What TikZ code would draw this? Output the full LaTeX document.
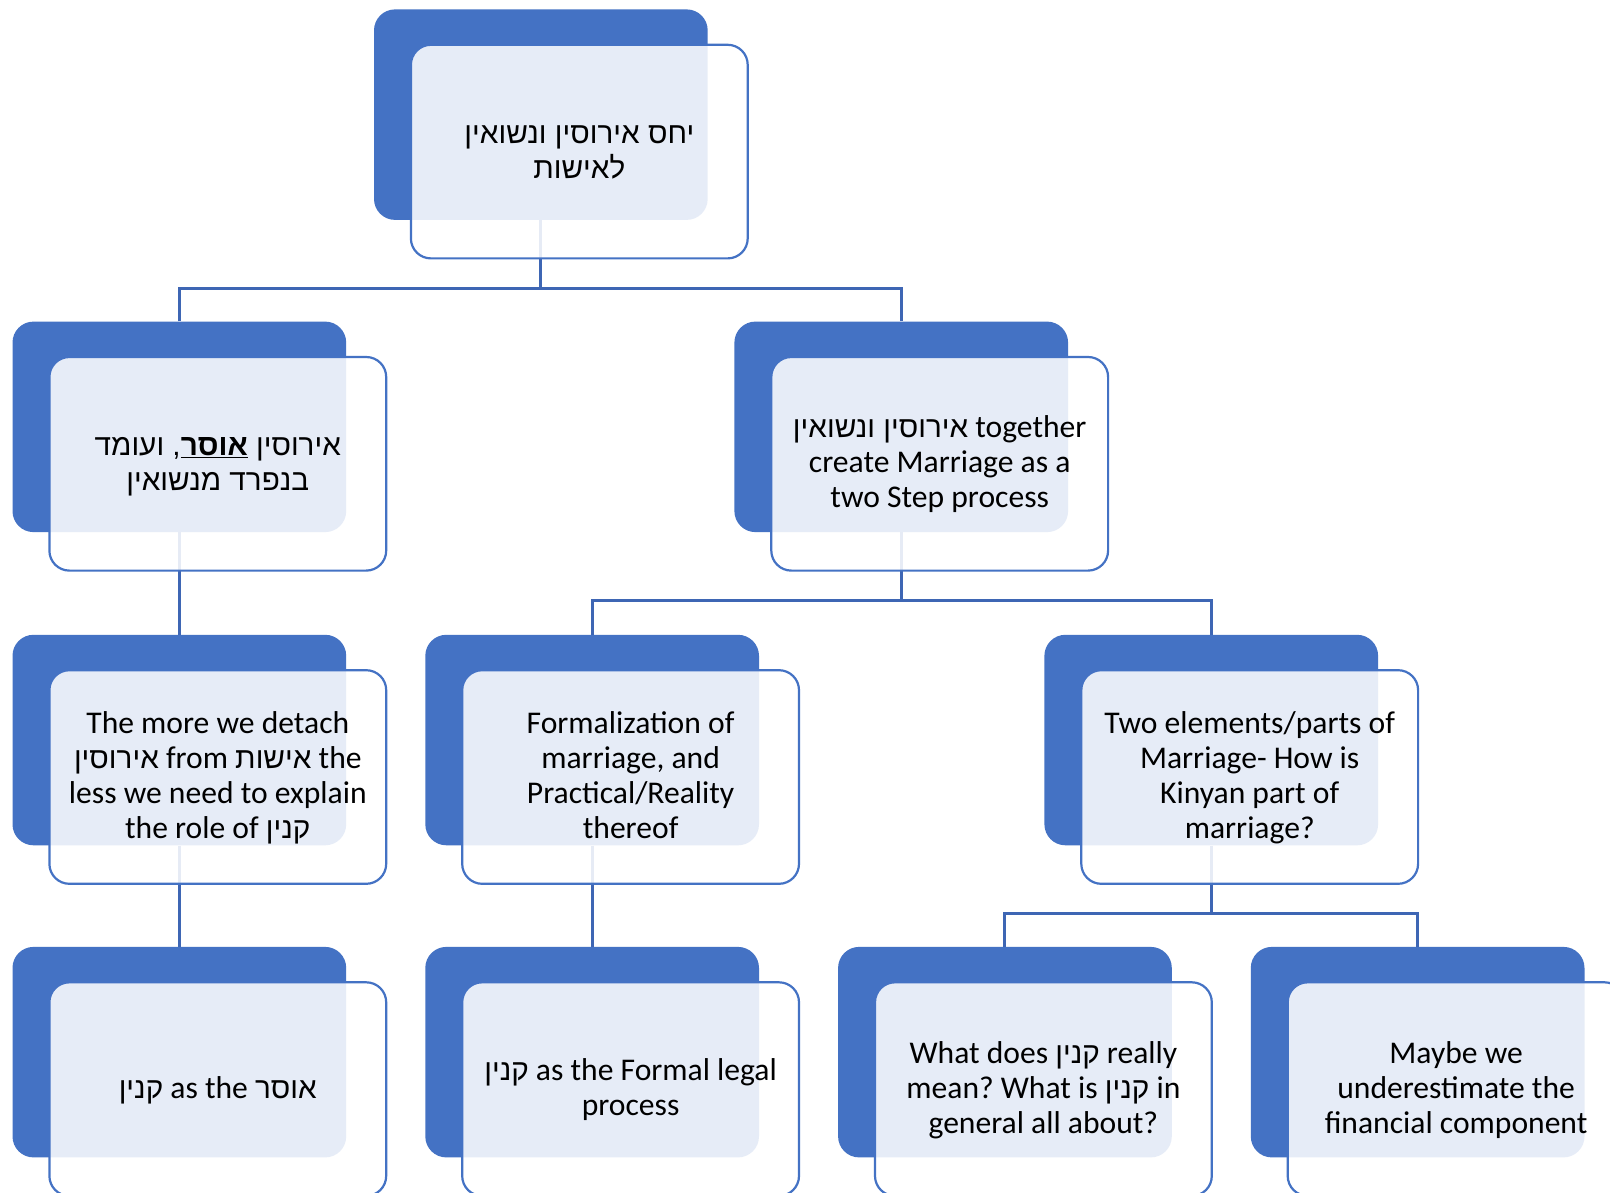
\documentclass[tikz,border=0pt]{standalone}
\usepackage{fontspec}
\setmainfont{Carlito}
\newfontfamily\hebfont[Script=Hebrew,Scale=0.94]{Liberation Sans}
\TeXXeTstate=1
\frenchspacing
\newcommand\hb[1]{{\hebfont\beginR #1\endR}}
\usetikzlibrary{calc}
\definecolor{boxblue}{RGB}{68,114,196}
\definecolor{linkblue}{RGB}{62,102,180}
\pgfdeclarelayer{bg}
\pgfsetlayers{bg,main}
\tikzset{
  darkbox/.style={rectangle, rounded corners=21, fill=boxblue, draw=none,
    minimum width=333.7, minimum height=210.5, inner sep=0, anchor=north west},
  frontbox/.style={rectangle, rounded corners=20, fill=white, fill opacity=0.87,
    draw=boxblue, draw opacity=1, line width=2.2, minimum width=336.8, minimum height=213.6,
    inner sep=0, anchor=north west},
  txt/.style={align=center, text=black, inner sep=0, yshift=-2pt,
    font=\fontsize{31.6}{35}\selectfont},
  conn/.style={draw=linkblue, line width=3}
}
\newcommand\unitbox[4]{%
  \node[darkbox] (#1-d) at (#2,#3) {};
  \node[frontbox] (#1) at ($(#1-d.north west)+(36,34.5)$) {};
  \node[txt] (#1-t) at (#1.center) {\strut #4\strut};
}
\begin{document}
\begin{tikzpicture}[x=1pt,y=-1pt]
\clip (0,0) rectangle (1610,1193);
\coordinate (bar1) at (0,288.5);
\coordinate (bar2) at (0,600.7);
\coordinate (bar3) at (0,913.8);

\unitbox{top}{373.8}{9.2}{\hb{יחס אירוסין ונשואין}\\\hb{לאישות}}
\unitbox{l2}{12.3}{321.4}{\hb{אירוסין \underline{\bfseries אוסר}, ועומד}\\\hb{בנפרד מנשואין}}
\unitbox{r2}{734.2}{321.4}{\hb{אירוסין ונשואין} together\\create Marriage as a\\two Step process}
\unitbox{l3}{12.3}{634.6}{The more we detach\\\hb{אירוסין} from \hb{אישות} the\\less we need to explain\\the role of \hb{קנין}}
\unitbox{m3}{425.1}{634.6}{Formalization of\\marriage, and\\Practical/Reality\\thereof}
\unitbox{r3}{1044.2}{634.6}{Two elements/parts of\\Marriage- How is\\Kinyan part of\\marriage?}
\unitbox{l4}{12.3}{946.7}{\hb{קנין} as the \hb{אוסר}}
\unitbox{m4}{425.1}{946.7}{\hb{קנין} as the Formal legal\\process}
\unitbox{a4}{837.9}{946.7}{What does \hb{קנין} really\\mean? What is \hb{קנין} in\\general all about?}
\unitbox{b4}{1250.6}{946.7}{Maybe we\\underestimate the\\financial component}

\begin{pgfonlayer}{bg}
\fill[white] (0,0) rectangle (1610,1193);
\draw[conn] (top-d.south) -- (top-d.south |- bar1);
\draw[conn] (l2-d.north) |- (r2-d.north |- bar1) -- (r2-d.north);
\draw[conn] (l2-d.south) -- (l3-d.north);
\draw[conn] (r2-d.south) -- (r2-d.south |- bar2);
\draw[conn] (m3-d.north) |- (r3-d.north |- bar2) -- (r3-d.north);
\draw[conn] (l3-d.south) -- (l4-d.north);
\draw[conn] (m3-d.south) -- (m4-d.north);
\draw[conn] (r3-d.south) -- (r3-d.south |- bar3);
\draw[conn] (a4-d.north) |- (b4-d.north |- bar3) -- (b4-d.north);
\end{pgfonlayer}
\end{tikzpicture}
\end{document}
